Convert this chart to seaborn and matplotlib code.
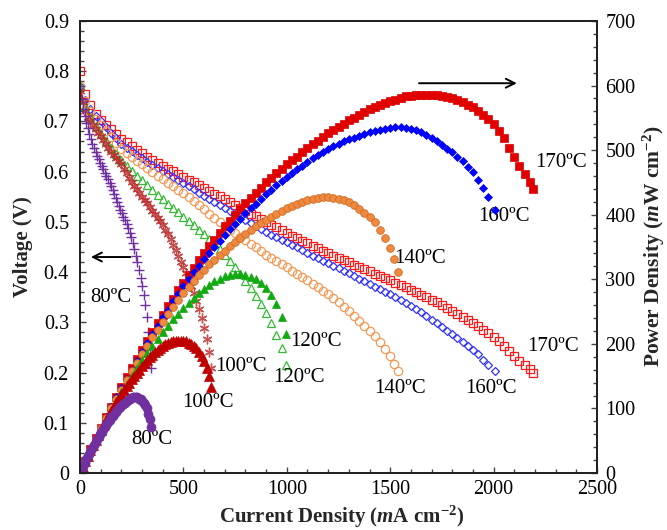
import numpy as np
import pandas as pd
import matplotlib
matplotlib.use("Agg")
import matplotlib.pyplot as plt
import seaborn as sns
from matplotlib.ticker import MultipleLocator

# ---------------- data ----------------
I170 = [0, 25, 50, 75, 100, 125, 150, 175, 200, 225, 250, 275, 300, 325, 350, 375, 400, 425,
        450, 475, 500, 525, 550, 575, 600, 625, 650, 675, 700, 725, 750, 775, 800, 825, 850,
        875, 900, 925, 950, 975, 1000, 1025, 1050, 1075, 1100, 1125, 1150, 1175, 1200, 1225,
        1250, 1275, 1300, 1325, 1350, 1375, 1400, 1425, 1450, 1475, 1500, 1525, 1550, 1575,
        1600, 1625, 1650, 1675, 1700, 1725, 1750, 1775, 1800, 1825, 1850, 1875, 1900, 1925,
        1950, 1975, 2000, 2025, 2050, 2075, 2100, 2125, 2150, 2175, 2193]
V170 = [.80, .755, .732, .715, .703, .693, .685, .675, .665, .658, .652, .644, .637, .630, .624,
        .618, .612, .606, .601, .595, .59, .584, .579, .573, .568, .562, .556, .551, .545, .539,
        .533, .528, .522, .516, .511, .505, .50, .494, .489, .483, .478, .472, .467, .462, .457,
        .452, .447, .442, .438, .433, .429, .424, .42, .415, .411, .406, .402, .397, .393, .388,
        .384, .379, .375, .370, .365, .360, .355, .350, .345, .340, .334, .328, .322, .316, .31,
        .304, .298, .292, .285, .278, .27, .262, .253, .243, .233, .224, .215, .207, .20]
P170 = [0, 19, 37, 54, 70, 87, 103, 118, 133, 148, 163, 177, 191, 205, 218, 232, 245, 258, 270,
        283, 295, 307, 318, 330, 341, 351, 361, 372, 382, 391, 400, 409, 418, 426, 434, 442, 450,
        457, 465, 471, 478, 484, 490, 497, 503, 509, 514, 520, 526, 531, 536, 541, 546, 550, 555,
        559, 563, 566, 570, 573, 576, 578, 581, 583, 584, 585, 586, 586, 586, 585, 584, 582, 580,
        577, 574, 570, 566, 561, 555, 548, 540, 530, 518, 504, 490, 476, 463, 450, 439]

I160 = [0, 25, 50, 75, 100, 125, 150, 175, 200, 225, 250, 275, 300, 325, 350, 375, 400, 425,
        450, 475, 500, 525, 550, 575, 600, 625, 650, 675, 700, 725, 750, 775, 800, 825, 850,
        875, 900, 925, 950, 975, 1000, 1025, 1050, 1075, 1100, 1125, 1150, 1175, 1200, 1225,
        1250, 1275, 1300, 1325, 1350, 1375, 1400, 1425, 1450, 1475, 1500, 1525, 1550, 1575,
        1600, 1625, 1650, 1675, 1700, 1725, 1750, 1775, 1800, 1825, 1850, 1875, 1900, 1925,
        1950, 1975, 2005]
V160 = [.77, .742, .725, .711, .70, .688, .677, .666, .656, .648, .641, .634, .627, .620, .614,
        .608, .602, .596, .59, .584, .578, .571, .565, .558, .552, .545, .539, .533, .527, .521,
        .515, .509, .503, .497, .491, .485, .48, .474, .469, .464, .459, .454, .449, .443, .438,
        .433, .428, .423, .418, .413, .408, .403, .398, .392, .387, .382, .377, .371, .366, .361,
        .356, .351, .345, .339, .333, .327, .320, .313, .305, .298, .29, .283, .276, .268, .261,
        .253, .245, .236, .226, .216, .203]
P160 = [0, 19, 36, 53, 70, 86, 102, 117, 131, 146, 160, 174, 188, 202, 215, 228, 241, 253, 266,
        277, 289, 300, 311, 321, 331, 341, 350, 360, 369, 378, 386, 394, 402, 410, 417, 424, 432,
        438, 446, 452, 459, 465, 471, 476, 482, 487, 492, 497, 502, 506, 510, 514, 517, 519, 522,
        525, 528, 529, 531, 532, 534, 535, 535, 534, 533, 531, 528, 524, 519, 514, 508, 502, 497,
        489, 483, 474, 466, 454, 441, 427, 407]

I140 = [0, 25, 50, 75, 100, 125, 150, 175, 200, 225, 250, 275, 300, 325, 350, 375, 400, 425,
        450, 475, 500, 525, 550, 575, 600, 625, 650, 675, 700, 725, 750, 775, 800, 825, 850,
        875, 900, 925, 950, 975, 1000, 1025, 1050, 1075, 1100, 1125, 1150, 1175, 1200, 1225,
        1250, 1275, 1300, 1325, 1350, 1375, 1400, 1425, 1450, 1475, 1500, 1520, 1537]
V140 = [.77, .74, .72, .705, .692, .680, .668, .657, .646, .638, .63, .622, .615, .607, .60,
        .592, .585, .578, .571, .564, .557, .549, .541, .533, .525, .516, .508, .50, .492, .484,
        .477, .470, .463, .456, .449, .442, .435, .428, .422, .416, .41, .403, .397, .390, .384,
        .377, .37, .363, .356, .348, .34, .331, .322, .313, .303, .293, .283, .272, .26, .247,
        .232, .218, .203]
P140 = [0, 18.5, 36, 53, 69, 85, 100, 115, 129, 144, 158, 171, 185, 197, 210, 222, 234, 246,
        257, 268, 279, 288, 298, 306, 315, 323, 330, 338, 344, 351, 358, 364, 370, 376, 382, 387,
        392, 396, 401, 406, 410, 413, 417, 419, 422, 424, 426, 427, 427, 426, 425, 422, 419, 415,
        409, 403, 396, 388, 377, 364, 348, 331, 312]

I120 = [0, 25, 50, 75, 100, 125, 150, 175, 200, 225, 250, 275, 300, 325, 350, 375, 400, 425,
        450, 475, 500, 525, 550, 575, 600, 625, 650, 675, 700, 725, 750, 775, 800, 825, 850,
        875, 900, 925, 950, 975, 995]
V120 = [.77, .73, .708, .69, .675, .661, .648, .635, .623, .612, .602, .592, .583, .573, .564,
        .554, .545, .536, .528, .519, .51, .501, .493, .484, .475, .466, .457, .446, .435, .423,
        .41, .397, .383, .368, .353, .337, .318, .298, .275, .248, .216]
P120 = [0, 18, 35, 52, 68, 83, 97, 111, 125, 138, 151, 163, 175, 186, 197, 208, 218, 228, 238,
        247, 255, 263, 271, 278, 285, 291, 297, 301, 305, 307, 308, 308, 306, 304, 300, 295, 286,
        276, 261, 242, 215]

I100 = [0, 12.5, 25, 37.5, 50, 62.5, 75, 87.5, 100, 112.5, 125, 137.5, 150, 162.5, 175, 187.5,
        200, 212.5, 225, 237.5, 250, 262.5, 275, 287.5, 300, 312.5, 325, 337.5, 350, 362.5, 375,
        387.5, 400, 412.5, 425, 437.5, 450, 462.5, 475, 487.5, 500, 512.5, 525, 537.5, 550,
        562.5, 575, 587.5, 600, 612.5, 625, 635]
V100 = [.76, .738, .72, .709, .70, .692, .685, .677, .67, .662, .655, .647, .64, .633, .627,
        .621, .615, .606, .597, .588, .58, .572, .565, .557, .55, .543, .537, .529, .522, .515,
        .508, .501, .493, .484, .475, .465, .454, .443, .432, .421, .41, .398, .385, .372, .358,
        .343, .326, .308, .288, .266, .24, .21]
P100 = [0, 9, 18, 27, 35, 43, 51, 59, 67, 74, 82, 89, 96, 103, 110, 116, 123, 129, 134, 140,
        145, 150, 155, 160, 165, 170, 175, 179, 183, 187, 191, 194, 197, 200, 202, 203, 204, 205,
        205, 205, 205, 204, 202, 200, 197, 193, 187, 181, 173, 163, 150, 133]

I80 = [0, 7.5, 15, 22.5, 30, 37.5, 45, 52.5, 60, 67.5, 75, 82.5, 90, 97.5, 105, 112.5, 120,
       127.5, 135, 142.5, 150, 157.5, 165, 172.5, 180, 187.5, 195, 202.5, 210, 217.5, 225,
       232.5, 240, 247.5, 255, 262.5, 270, 277.5, 285, 292.5, 300, 307.5, 315, 322.5, 330,
       337.5, 345]
V80 = [.77, .745, .725, .71, .697, .686, .675, .665, .655, .647, .64, .632, .625, .618, .612,
       .605, .598, .591, .585, .578, .571, .564, .556, .548, .54, .532, .524, .517, .51, .503,
       .495, .487, .478, .469, .458, .446, .433, .42, .405, .389, .372, .354, .335, .31, .28,
       .247, .21]
P80 = [0, 5.6, 11, 16, 21, 26, 30, 35, 39, 44, 48, 52, 56, 60, 64, 68, 72, 75, 79, 82, 86, 89,
       92, 95, 97, 100, 102, 105, 107, 109, 111, 113, 115, 116, 117, 117, 117, 117, 115, 114,
       112, 109, 106, 100, 92, 83, 72]

temp_labels = ["80ºC", "100ºC", "120ºC", "140ºC", "160ºC", "170ºC"]
x_ticks = [0, 500, 1000, 1500, 2000, 2500]
v_ticks = [0, 0.1, 0.2, 0.3, 0.4, 0.5, 0.6, 0.7, 0.8, 0.9]
p_ticks = [0, 100, 200, 300, 400, 500, 600, 700]

# ---------------- style ----------------
sns.set_theme(style="ticks")
plt.rcParams['font.family'] = ['Liberation Serif', 'DejaVu Serif']
plt.rcParams['mathtext.fontset'] = 'custom'
plt.rcParams['mathtext.rm'] = 'Liberation Serif:bold'
plt.rcParams['mathtext.it'] = 'Liberation Serif:italic:bold'
plt.rcParams['mathtext.bf'] = 'Liberation Serif:bold'

fig = plt.figure(figsize=(6.67, 5.30), dpi=100)
ax = fig.add_axes([0.12, 0.1075, 0.775, 0.853])
ax2 = ax.twinx()


def draw(axis, I, Y, marker, ms, mfc, mec, mew=1.0, alpha=1.0, z=2):
    df = pd.DataFrame({"I": I, "Y": Y})
    sns.lineplot(data=df, x="I", y="Y", ax=axis, estimator=None, sort=False,
                 linestyle="none", marker=marker, markersize=ms, markerfacecolor=mfc,
                 markeredgecolor=mec, markeredgewidth=mew, color=mec, alpha=alpha,
                 legend=False, zorder=z)


# polarisation curves (left axis)
draw(ax, I170, V170, "s", 5.2, "none", "#ff1a1a", mew=0.9)
draw(ax, I160, V160, "D", 4.0, "none", "#3333ff", mew=0.9)
draw(ax, I140, V140, "o", 6.0, "none", "#f59a55", mew=0.9)
draw(ax, I120, V120, "^", 5.5, "none", "#33bb33", mew=0.9)
draw(ax, I100, V100, (6, 2, 0), 7.0, "#b82828", "#b82828", mew=1.0, alpha=0.8)
draw(ax, I80, V80, "+", 7.0, "#7030a0", "#7030a0", mew=1.0)

# power density curves (right axis)
draw(ax2, I170, P170, "s", 5.2, "#e00000", "#e00000", mew=0.5)
draw(ax2, I160, P160, "D", 3.6, "#0000ff", "#0000ff", mew=0.5)
draw(ax2, I140, P140, "o", 5.5, "#ee8a40", "#d06a20", mew=0.6)
draw(ax2, I120, P120, "^", 5.5, "#11aa11", "#11aa11", mew=0.5)
draw(ax2, I100, P100, "^", 6.5, "#c00000", "#c00000", mew=0.5)
draw(ax2, I80, P80, "o", 6.5, "#7030a0", "#7030a0", mew=0.5)

# axes limits / ticks
ax.set_xlim(0, 2500)
ax.set_ylim(0, 0.9)
ax2.set_ylim(0, 700)
ax.set_xticks(x_ticks)
ax.set_yticks(v_ticks)
ax2.set_yticks(p_ticks)
ax.set_yticklabels(["0"] + [f"{v:.1f}" for v in v_ticks[1:]])
ax.xaxis.set_minor_locator(MultipleLocator(100))
ax.yaxis.set_minor_locator(MultipleLocator(0.02))
ax2.yaxis.set_minor_locator(MultipleLocator(20))

for a in (ax, ax2):
    a.tick_params(which="both", direction="in", colors="#444444", labelcolor="black",
                  labelsize=14.5, width=1.0)
    a.tick_params(which="major", length=4)
    a.tick_params(which="minor", length=3)
    for sp in a.spines.values():
        sp.set_linewidth(1.4)
        sp.set_color("#222222")
ax.tick_params(axis="x", pad=5)
ax.tick_params(axis="y", pad=8)
ax2.tick_params(axis="y", pad=6)
ax.grid(False)
ax2.grid(False)
ax.set_xlabel("")
ax.set_ylabel("")
ax2.set_ylabel("")

fig.text(0.512, 0.024, "Current Density ($\\mathit{m}$A cm$^{-2}$)", fontsize=15,
         fontweight="bold", ha="center", va="center")
fig.text(0.034, 0.534, "Voltage (V)", fontsize=15, fontweight="bold",
         ha="center", va="center", rotation=90)
fig.text(0.981, 0.535, "Power Density ($\\mathit{m}$W cm$^{-2}$)", fontsize=15.5,
         fontweight="bold", ha="center", va="center", rotation=90)

# temperature annotations (left-axis data coordinates)
label_pos = {
    "80ºC": [(150, 0.349), (345, 0.066)],
    "100ºC": [(777, 0.212), (617, 0.14)],
    "120ºC": [(1141, 0.262), (1058, 0.19)],
    "140ºC": [(1646, 0.428), (1549, 0.169)],
    "160ºC": [(2049, 0.511), (1985, 0.169)],
    "170ºC": [(2325, 0.619), (2286, 0.251)],
}
for lab in temp_labels:
    for (xx, yy) in label_pos[lab]:
        ax.text(xx, yy, lab, fontsize=15, ha="center", va="center", color="black", zorder=10)

# arrows
ax.annotate("", xy=(39, 0.43), xytext=(257, 0.43),
            arrowprops=dict(arrowstyle="->", lw=1.4, color="black", mutation_scale=16))
ax.annotate("", xy=(2126, 0.776), xytext=(1626, 0.776),
            arrowprops=dict(arrowstyle="->", lw=1.4, color="black", mutation_scale=16))

fig.savefig("out.png", dpi=100)
